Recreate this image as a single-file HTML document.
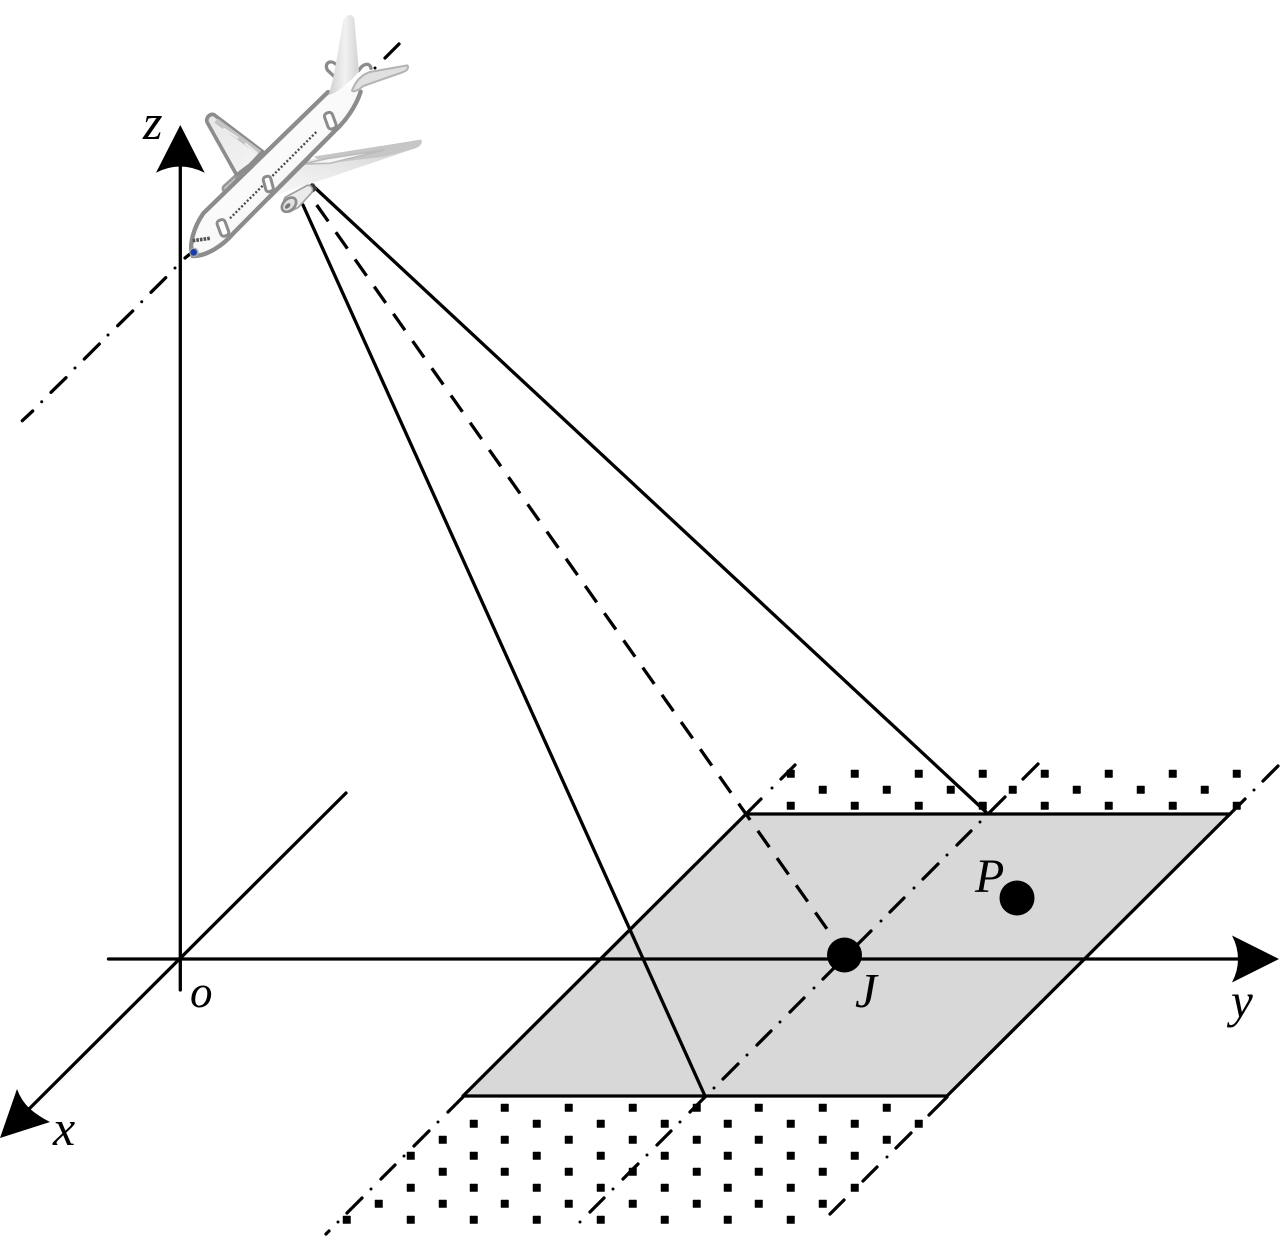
<!DOCTYPE html>
<html lang="en">
<head>
<meta charset="utf-8">
<title>Diagram</title>
<style>
html,body{margin:0;padding:0;background:#fff;}
svg{display:block;}
text{font-family:"Liberation Serif",serif;font-style:italic;font-size:47px;fill:#000;}
</style>
</head>
<body>
<svg width="1280" height="1238" viewBox="0 0 1280 1238" xmlns="http://www.w3.org/2000/svg">
<defs>
<linearGradient id="fus" x1="0.15" y1="0.15" x2="0.85" y2="0.85">
<stop offset="0" stop-color="#ffffff"/><stop offset=".6" stop-color="#f8f8f8"/><stop offset="1" stop-color="#bdbdbd"/>
</linearGradient>
<linearGradient id="fin" x1="0" y1="0" x2="1" y2="0">
<stop offset="0" stop-color="#cfcfcf"/><stop offset=".55" stop-color="#f2f2f2"/><stop offset="1" stop-color="#d2d2d2"/>
</linearGradient>
<linearGradient id="wing" x1="0" y1="1" x2="1" y2="0">
<stop offset="0" stop-color="#fafafa"/><stop offset=".6" stop-color="#e2e2e2"/><stop offset="1" stop-color="#c4c4c4"/>
</linearGradient>
<linearGradient id="farw" x1="0" y1="0" x2="1" y2="1">
<stop offset="0" stop-color="#e6e6e6"/><stop offset="1" stop-color="#f6f6f6"/>
</linearGradient>
</defs>

<!-- ground footprint -->
<polygon points="746,814 1230,814 947,1096 463,1096" fill="#d8d8d8"/>

<!-- square dot texture -->
<g fill="#000" stroke="#000" stroke-width=".5">
<path d="M787,770h7.5v7.5h-7.5zM851,770h7.5v7.5h-7.5zM915,770h7.5v7.5h-7.5zM979,770h7.5v7.5h-7.5zM1041,770h7.5v7.5h-7.5zM1105,770h7.5v7.5h-7.5zM1169,770h7.5v7.5h-7.5zM1233,770h7.5v7.5h-7.5z
M819,786h7.5v7.5h-7.5zM883,786h7.5v7.5h-7.5zM947,786h7.5v7.5h-7.5zM1009,786h7.5v7.5h-7.5zM1073,786h7.5v7.5h-7.5zM1137,786h7.5v7.5h-7.5zM1201,786h7.5v7.5h-7.5z
M787,802h7.5v7.5h-7.5zM851,802h7.5v7.5h-7.5zM915,802h7.5v7.5h-7.5zM979,802h7.5v7.5h-7.5zM1041,802h7.5v7.5h-7.5zM1105,802h7.5v7.5h-7.5zM1169,802h7.5v7.5h-7.5zM1233,802h7.5v7.5h-7.5z
M501,1104h7.5v7.5h-7.5zM565,1104h7.5v7.5h-7.5zM629,1104h7.5v7.5h-7.5zM693,1104h7.5v7.5h-7.5zM755,1104h7.5v7.5h-7.5zM819,1104h7.5v7.5h-7.5zM883,1104h7.5v7.5h-7.5z
M470,1120h7.5v7.5h-7.5zM533,1120h7.5v7.5h-7.5zM597,1120h7.5v7.5h-7.5zM661,1120h7.5v7.5h-7.5zM724,1120h7.5v7.5h-7.5zM787,1120h7.5v7.5h-7.5zM851,1120h7.5v7.5h-7.5zM915,1120h7.5v7.5h-7.5z
M439,1136h7.5v7.5h-7.5zM501,1136h7.5v7.5h-7.5zM565,1136h7.5v7.5h-7.5zM629,1136h7.5v7.5h-7.5zM693,1136h7.5v7.5h-7.5zM755,1136h7.5v7.5h-7.5zM819,1136h7.5v7.5h-7.5zM883,1136h7.5v7.5h-7.5z
M407,1152h7.5v7.5h-7.5zM470,1152h7.5v7.5h-7.5zM533,1152h7.5v7.5h-7.5zM597,1152h7.5v7.5h-7.5zM661,1152h7.5v7.5h-7.5zM724,1152h7.5v7.5h-7.5zM787,1152h7.5v7.5h-7.5zM851,1152h7.5v7.5h-7.5z
M439,1168h7.5v7.5h-7.5zM501,1168h7.5v7.5h-7.5zM565,1168h7.5v7.5h-7.5zM629,1168h7.5v7.5h-7.5zM693,1168h7.5v7.5h-7.5zM755,1168h7.5v7.5h-7.5zM819,1168h7.5v7.5h-7.5z
M407,1184h7.5v7.5h-7.5zM470,1184h7.5v7.5h-7.5zM533,1184h7.5v7.5h-7.5zM597,1184h7.5v7.5h-7.5zM661,1184h7.5v7.5h-7.5zM724,1184h7.5v7.5h-7.5zM787,1184h7.5v7.5h-7.5zM851,1184h7.5v7.5h-7.5z
M375,1200h7.5v7.5h-7.5zM439,1200h7.5v7.5h-7.5zM501,1200h7.5v7.5h-7.5zM565,1200h7.5v7.5h-7.5zM629,1200h7.5v7.5h-7.5zM693,1200h7.5v7.5h-7.5zM755,1200h7.5v7.5h-7.5zM819,1200h7.5v7.5h-7.5z
M343,1216h7.5v7.5h-7.5zM407,1216h7.5v7.5h-7.5zM470,1216h7.5v7.5h-7.5zM533,1216h7.5v7.5h-7.5zM597,1216h7.5v7.5h-7.5zM661,1216h7.5v7.5h-7.5zM724,1216h7.5v7.5h-7.5zM787,1216h7.5v7.5h-7.5z"/>
</g>

<!-- parallelogram outline -->
<g fill="none" stroke="#000" stroke-width="3.300" stroke-linecap="round" stroke-linejoin="round">
<polygon points="746,814 1230,814 947,1096 463,1096"/>
</g>

<!-- dash-dot lines -->
<g fill="none" stroke="#000" stroke-width="3.300" stroke-linecap="round">
<path d="M795,765L781,779M761,799L746,814M463,1097L448,1112M429,1131L414,1146M395,1165L381,1179M362,1198L347,1213M329,1231L326,1234"/>
<path d="M1038,764L1023,779M1005,797L989,813M971,831L957,845M938,864L923,879M904,898L890,912M871,931L857,945M833,969L823,979M804,998L790,1012M771,1031L757,1045M738,1064L723,1079M705,1097L690,1112M671,1131L657,1145M638,1164L623,1179M604,1198L590,1212"/>
<path d="M1278,766L1263,781M1245,799L1230,814M947,1097L929,1115M911,1133L896,1148M877,1167L863,1181M844,1200L830,1214"/>
<path d="M399,44L385,58M195,250L185,258M165.700,277.700L151,292.300M132.700,311L117.700,325.700M99.300,344L84.300,359M66,377.700L51,392.300M32.700,411L22.300,420.700"/>
</g>
<g fill="#000">
<circle cx="772" cy="788" r="1.5"/><circle cx="438" cy="1122" r="1.5"/><circle cx="404" cy="1156" r="1.5"/><circle cx="371" cy="1189" r="1.5"/><circle cx="338" cy="1222" r="1.5"/>
<circle cx="1014" cy="788" r="1.5"/><circle cx="980" cy="822" r="1.5"/><circle cx="947" cy="855" r="1.5"/><circle cx="914" cy="888" r="1.5"/><circle cx="881" cy="921" r="1.5"/><circle cx="814" cy="988" r="1.5"/><circle cx="780" cy="1022" r="1.5"/><circle cx="747" cy="1055" r="1.5"/><circle cx="714" cy="1088" r="1.5"/><circle cx="680" cy="1122" r="1.5"/><circle cx="647" cy="1155" r="1.5"/><circle cx="613" cy="1189" r="1.5"/><circle cx="580" cy="1222" r="1.5"/>
<circle cx="1254" cy="790" r="1.5"/><circle cx="919" cy="1124" r="1.5"/><circle cx="887" cy="1157" r="1.5"/><circle cx="854" cy="1190" r="1.5"/>
<circle cx="375" cy="68" r="1.5"/><circle cx="175" cy="268" r="1.5"/><circle cx="141.700" cy="301.700" r="1.500"/><circle cx="108" cy="335" r="1.5"/><circle cx="75" cy="368" r="1.5"/><circle cx="41.700" cy="401.700" r="1.500"/>
</g>

<!-- axes -->
<g fill="none" stroke="#000" stroke-width="3.300" stroke-linecap="round">
<line x1="180.300" y1="990" x2="180.300" y2="160"/>
<line x1="108.500" y1="959" x2="1245" y2="959"/>
<line x1="346" y1="793" x2="25" y2="1113"/>
</g>
<path d="M180.300,125L204.700,172.700Q192,166.500 180.300,166.500Q168,166.500 156,172.700Z" fill="#000"/>
<path d="M1279,959L1232,982.500Q1238,971 1238,959Q1238,947 1232,935.500Z" fill="#000"/>
<path d="M0,1138L17,1089Q21,1100 29,1108Q38,1116 50,1122Z" fill="#000"/>

<!-- beam rays -->
<g fill="none" stroke="#000" stroke-width="3.300" stroke-linecap="round">
<line x1="312" y1="185" x2="986" y2="812"/>
<line x1="303" y1="205" x2="705" y2="1096"/>
<line x1="316.700" y1="205" x2="827" y2="929" stroke-dasharray="20 13.29" stroke-linecap="butt"/>
</g>

<!-- points -->
<circle cx="1017" cy="898" r="17.500" fill="#000"/>
<circle cx="844.500" cy="955" r="17.500" fill="#000"/>

<!-- aircraft, drawn in a 3x local space -->
<g transform="translate(170,0) scale(0.33333)" stroke-linejoin="round" stroke-linecap="round">
<!-- far engine -->
<path d="M160,560C155,572 165,580 178,575L212,548L195,528Z" fill="#c8c8c8" stroke="#999" stroke-width="8"/>
<!-- far wing -->
<path d="M200,525L112,368C106,355 118,340 132,344L278,455L240,495Z" fill="url(#farw)" stroke="#8c8c8c" stroke-width="11"/>
<path d="M138,362L268,458" fill="none" stroke="#c4c4c4" stroke-width="16" stroke-linecap="butt"/>
<path d="M160,385L205,415M225,430L262,460" fill="none" stroke="#eeeeee" stroke-width="6" stroke-linecap="butt"/>
<!-- tail loops -->
<path d="M495,232L472,210C462,190 480,178 497,192" fill="none" stroke="#8c8c8c" stroke-width="10"/>
<path d="M566,212C580,188 600,188 603,205" fill="none" stroke="#8c8c8c" stroke-width="10"/>
<!-- fuselage -->
<path d="M68,768C55,735 72,680 100,640L470,278L500,250L575,270C560,320 525,365 495,392L190,700C160,735 110,770 68,768Z" fill="url(#fus)"/>
<path d="M68,768C55,735 72,680 100,640L474,276M572,275C558,320 525,365 495,392L190,700C160,735 110,770 68,768" fill="none" stroke="#8c8c8c" stroke-width="13"/>
<!-- fin -->
<path d="M475,286C495,230 505,140 520,62C528,40 550,40 553,58L567,215C545,240 510,275 475,286Z" fill="url(#fin)"/>
<!-- stabilizer -->
<path d="M546,272C556,245 572,225 600,216L712,196C718,203 710,212 700,216L580,258C568,268 552,278 546,272Z" fill="#e0e0e0" stroke="#b4b4b4" stroke-width="6"/>
<!-- near wing -->
<path d="M300,590L385,500C400,482 430,475 470,470L752,419C760,425 752,440 735,445L500,525L340,578Z" fill="url(#wing)"/>
<path d="M430,470L752,419C760,425 752,440 735,445L640,470L470,490Z" fill="#c6c6c6"/>
<path d="M400,492L470,476L640,450L480,490Z" fill="#f6f6f6" stroke="#bbb" stroke-width="5"/>
<path d="M295,595L415,475" fill="none" stroke="#8c8c8c" stroke-width="12"/>
<!-- near engine -->
<path d="M412,556L432,550L442,568L425,580Z" fill="#3a3a3a"/>
<path d="M345,592L412,556C425,555 432,568 425,578L385,622L358,636C345,632 335,612 345,592Z" fill="#ebebeb" stroke="#a0a0a0" stroke-width="5"/>
<ellipse cx="357" cy="614" rx="17" ry="25" transform="rotate(45 357 614)" fill="#e0e0e0" stroke="#8c8c8c" stroke-width="8"/>
<ellipse cx="353" cy="618" rx="6" ry="10" transform="rotate(45 353 618)" fill="#777"/>
<!-- windows -->
<path d="M180,655L440,395" fill="none" stroke="#4a4a4a" stroke-width="7" stroke-dasharray="6 6" stroke-linecap="butt"/>
<!-- doors -->
<rect x="146" y="659" width="25" height="50" rx="10" transform="rotate(-20 158 683)" fill="#fff" stroke="#8c8c8c" stroke-width="9"/>
<rect x="283" y="529" width="23" height="46" rx="9" transform="rotate(-15 294 551)" fill="#fff" stroke="#8c8c8c" stroke-width="9"/>
<rect x="468" y="337" width="25" height="50" rx="10" transform="rotate(-20 481 361)" fill="#fff" stroke="#8c8c8c" stroke-width="9"/>
<!-- cockpit and nose -->
<path d="M68,722L120,715" fill="none" stroke="#555" stroke-width="11" stroke-dasharray="8 3" stroke-linecap="butt"/>
<circle cx="72" cy="757" r="14" fill="#aaa"/>
<circle cx="71" cy="757" r="10" fill="#1a3ca8"/>
</g>

<!-- labels -->
<text x="143" y="139" style="font-size:50px">z</text>
<text x="190" y="1007" style="font-size:45px">o</text>
<text x="53" y="1145" style="font-size:50px">x</text>
<text x="1231" y="1017" style="font-size:49px">y</text>
<text x="975" y="892" style="font-size:48px">P</text>
<text x="855" y="1007" style="font-size:49px">J</text>
</svg>
</body>
</html>
